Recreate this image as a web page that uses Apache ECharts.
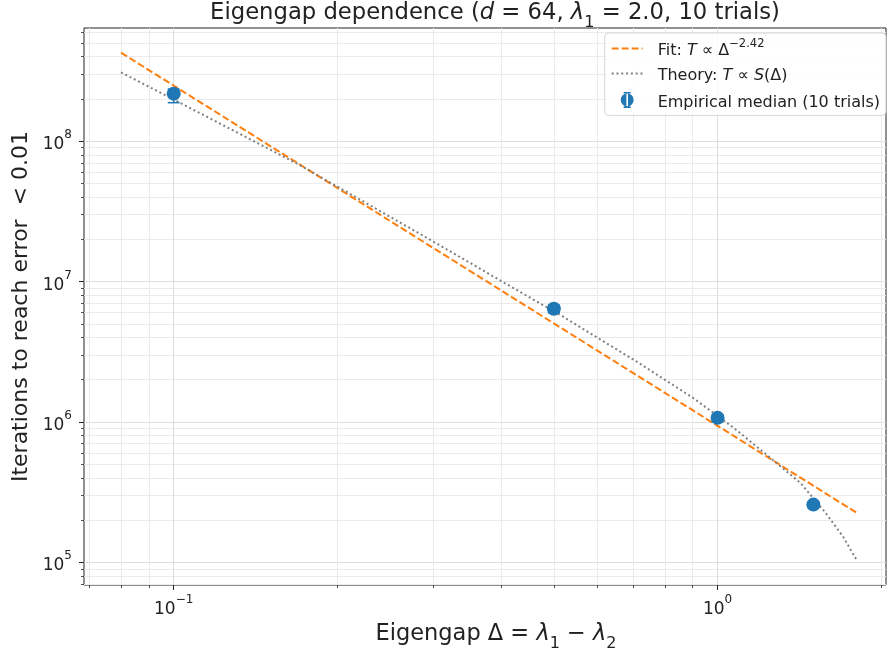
<!DOCTYPE html>
<html>
<head>
<meta charset="utf-8">
<script src="https://cdn.jsdelivr.net/npm/echarts@6/dist/echarts.min.js"></script>
<style>
  html, body { margin: 0; padding: 0; background: #fff; }
  #chart { width: 888px; height: 650px; }
</style>
</head>
<body>
<div id="chart"></div>
<script>
// empirical medians (10 trials) with error range
var medianGap = [0.1, 0.5, 1.0, 1.5];
var medianIters = [2.18e8, 6.41e6, 1.07e6, 2.58e5];
var iterLow = [1.88e8, 6.0e6, 1.0e6, 2.45e5];
var iterHigh = [2.35e8, 6.8e6, 1.12e6, 2.7e5];

// power-law fit, T ~ gap^-2.42
var fitGap = [0.08, 1.8];
var fitIters = [4.27e8, 2.26e5];

// theory curve
var theoryGap = [0.08, 0.1, 0.17, 0.3, 0.4, 0.52, 0.71, 0.9, 1.07, 1.23, 1.42, 1.58, 1.7, 1.8];
var theoryIters = [3.09e8, 1.98e8, 6.8e7, 1.93e7, 1.01e7, 5.62e6, 2.69e6, 1.49e6, 9.1e5, 5.85e5, 3.68e5, 2.25e5, 1.53e5, 1.045e5];

// ticks
var xMajor = [0.1, 1];
var xMinor = [0.07, 0.08, 0.09, 0.2, 0.3, 0.4, 0.5, 0.6, 0.7, 0.8, 0.9, 2];
var yMajor = [1e5, 1e6, 1e7, 1e8];
var yMinor = [7e4, 8e4, 9e4, 2e5, 3e5, 4e5, 5e5, 6e5, 7e5, 8e5, 9e5,
  2e6, 3e6, 4e6, 5e6, 6e6, 7e6, 8e6, 9e6,
  2e7, 3e7, 4e7, 5e7, 6e7, 7e7, 8e7, 9e7,
  2e8, 3e8, 4e8, 5e8, 6e8];

var X_MIN = 0.0684, X_MAX = 2.04;
var Y_MIN = 6.9e4, Y_MAX = 6.4e8;

var FONT = 'DejaVu Sans';
var blue = '#1f77b4';
var orange = '#ff7f0e';
var gray = '#808080';
var ink = '#222';

function zip(a, b) {
  return a.map(function (v, i) { return [v, b[i]]; });
}

function powLabel(v) {
  var e = Math.round(Math.log(v) / Math.LN10);
  var s = e < 0 ? '\u2212' + (-e) : '' + e;
  return '{b|10}{s|' + s + '}';
}

var tickRich = {
  b: { fontFamily: FONT, fontSize: 17, color: ink, lineHeight: 24, verticalAlign: 'bottom' },
  s: { fontFamily: FONT, fontSize: 12, color: ink, verticalAlign: 'top' }
};

var legendText = {
  fit: '{n|Fit: }{i|T}{n| \u221d \u0394}{sup|\u22122.42}',
  theory: '{n|Theory: }{i|T}{n| \u221d }{i|S}{n|(\u0394)}',
  median: '{n|Empirical median (10 trials)}'
};

function renderErrorBar(params, api) {
  var x = api.value(0);
  var lo = api.coord([x, api.value(1)]);
  var hi = api.coord([x, api.value(2)]);
  var cap = 6;
  var st = { stroke: blue, lineWidth: 1.5 };
  return {
    type: 'group',
    children: [
      { type: 'line', shape: { x1: lo[0], y1: lo[1], x2: hi[0], y2: hi[1] }, style: st },
      { type: 'line', shape: { x1: lo[0] - cap, y1: lo[1], x2: lo[0] + cap, y2: lo[1] }, style: st },
      { type: 'line', shape: { x1: hi[0] - cap, y1: hi[1], x2: hi[0] + cap, y2: hi[1] }, style: st }
    ]
  };
}

var chart = echarts.init(document.getElementById('chart'), null, { renderer: 'canvas' });

var mathRich = function (size, sub) {
  return {
    n: { fontFamily: FONT, fontSize: size, fontWeight: 'normal', color: ink, lineHeight: size + 6, verticalAlign: 'top' },
    i: { fontFamily: FONT, fontSize: size, fontWeight: 'normal', fontStyle: 'italic', color: ink, lineHeight: size + 6, verticalAlign: 'top' },
    sub: { fontFamily: FONT, fontSize: sub, fontWeight: 'normal', color: ink, verticalAlign: 'bottom' }
  };
};

var option = {
  backgroundColor: '#fff',
  animation: false,
  title: {
    text: '{n|Eigengap dependence (}{i|d}{n| = 64, }{i|\u03bb}{sub|1}{n| = 2.0, 10 trials)}',
    left: 490,
    textAlign: 'center',
    top: -3,
    textStyle: { fontWeight: 'normal', rich: mathRich(22.7, 16) }
  },
  legend: {
    data: [
      { name: 'fit', itemStyle: { opacity: 0 } },
      { name: 'theory', itemStyle: { opacity: 0 } },
      { name: 'median', icon: 'path://M3,0 h7 v1.6 h-7 Z M5.7,0 h1.6 v16 h-1.6 Z M3,14.4 h7 v1.6 h-7 Z M0,8 a6.5,6.5 0 1,0 13,0 a6.5,6.5 0 1,0 -13,0 Z' }
    ],
    orient: 'vertical',
    right: 2,
    top: 33,
    itemWidth: 31,
    itemHeight: 16,
    itemGap: 8,
    padding: [5, 6, 5, 6],
    backgroundColor: 'rgba(255,255,255,0.85)',
    borderColor: '#d6d6d6',
    borderWidth: 1,
    borderRadius: 4,
    formatter: function (name) { return legendText[name]; },
    textStyle: {
      fontFamily: FONT,
      fontSize: 16,
      color: ink,
      padding: [0, 0, 0, 10],
      rich: {
        n: { fontFamily: FONT, fontSize: 16, color: ink, lineHeight: 21, verticalAlign: 'bottom' },
        i: { fontFamily: FONT, fontSize: 16, fontStyle: 'italic', color: ink, lineHeight: 21, verticalAlign: 'bottom' },
        sup: { fontFamily: FONT, fontSize: 11.5, color: ink, verticalAlign: 'top' }
      }
    }
  },
  grid: {
    left: 84,
    right: 2,
    top: 28,
    bottom: 65,
    outerBoundsMode: 'none',
    containLabel: false,
    show: true,
    borderColor: ink,
    borderWidth: 1,
    backgroundColor: 'transparent'
  },
  xAxis: [
    {
      type: 'log',
      logBase: 10,
      min: X_MIN,
      max: X_MAX,
      position: 'bottom',
      axisLine: { show: false },
      axisTick: { show: true, customValues: xMajor, length: 5, lineStyle: { color: ink, width: 1 } },
      axisLabel: {
        customValues: xMajor,
        margin: 9,
        formatter: powLabel,
        rich: tickRich
      },
      splitLine: { show: true, lineStyle: { color: '#dedede', width: 1 } },
      name: '{n|Eigengap \u0394 = }{i|\u03bb}{sub|1}{n| \u2212 }{i|\u03bb}{sub|2}',
      nameLocation: 'middle',
      nameGap: 36,
      nameTextStyle: { padding: [0, 0, 0, 22], rich: mathRich(22.5, 16) }
    },
    {
      type: 'log',
      logBase: 10,
      min: X_MIN,
      max: X_MAX,
      position: 'bottom',
      axisLine: { show: false },
      axisTick: { show: true, customValues: xMinor, length: 3, lineStyle: { color: ink, width: 0.8 } },
      axisLabel: { show: false },
      splitLine: { show: true, lineStyle: { color: '#ebebeb', width: 1 } }
    }
  ],
  yAxis: [
    {
      type: 'log',
      logBase: 10,
      min: Y_MIN,
      max: Y_MAX,
      position: 'left',
      axisLine: { show: false },
      axisTick: { show: true, customValues: yMajor, length: 5, lineStyle: { color: ink, width: 1 } },
      axisLabel: {
        customValues: yMajor,
        margin: 12,
        formatter: powLabel,
        rich: tickRich
      },
      splitLine: { show: true, lineStyle: { color: '#dedede', width: 1 } },
      name: 'Iterations to reach error  < 0.01',
      nameLocation: 'middle',
      nameGap: 46,
      nameRotate: 90,
      nameTextStyle: { fontFamily: FONT, fontSize: 22, color: ink }
    },
    {
      type: 'log',
      logBase: 10,
      min: Y_MIN,
      max: Y_MAX,
      position: 'left',
      axisLine: { show: false },
      axisTick: { show: true, customValues: yMinor, length: 3, lineStyle: { color: ink, width: 0.8 } },
      axisLabel: { show: false },
      splitLine: { show: true, lineStyle: { color: '#ebebeb', width: 1 } }
    }
  ],
  series: [
    {
      name: 'fit',
      type: 'line',
      symbol: 'none',
      data: zip(fitGap, fitIters),
      lineStyle: { color: orange, width: 2, type: [7, 3] },
      itemStyle: { color: orange },
      z: 3
    },
    {
      name: 'theory',
      type: 'line',
      symbol: 'none',
      data: zip(theoryGap, theoryIters),
      lineStyle: { color: gray, width: 2, type: [2, 2.8] },
      itemStyle: { color: gray },
      z: 3
    },
    {
      name: 'median',
      type: 'scatter',
      symbol: 'circle',
      symbolSize: 14,
      data: zip(medianGap, medianIters),
      itemStyle: { color: blue, opacity: 1 },
      z: 5
    },
    {
      name: 'errbar',
      type: 'custom',
      renderItem: renderErrorBar,
      data: medianGap.map(function (g, i) { return [g, iterLow[i], iterHigh[i]]; }),
      encode: { x: 0, y: [1, 2] },
      z: 4
    }
  ]
};

chart.setOption(option);
</script>
</body>
</html>
